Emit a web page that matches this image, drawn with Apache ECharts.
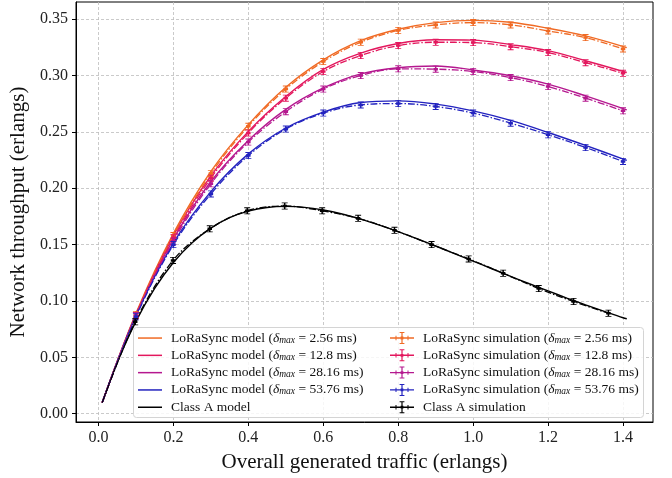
<!DOCTYPE html>
<html>
<head>
<meta charset="utf-8">
<script src="https://cdn.jsdelivr.net/npm/echarts@6/dist/echarts.min.js"></script>
<style>
  html, body { margin: 0; padding: 0; background: #fff; }
  #chart { width: 672px; height: 478px; }
</style>
</head>
<body>
<div id="chart"></div>
<script>
// x positions of the LoRaSync model curves and simulation points
const xModel = [0.01, 0.1, 0.2, 0.3, 0.4, 0.5, 0.6, 0.7, 0.8, 0.9, 1.0, 1.1, 1.2, 1.3, 1.41];
const xSim = [0.01, 0.1, 0.2, 0.3, 0.4, 0.5, 0.6, 0.7, 0.8, 0.9, 1.0, 1.1, 1.2, 1.3, 1.4];

// LoRaSync model throughput (erlangs)
const model256 = [0.0099, 0.089, 0.160, 0.215, 0.2565, 0.2897, 0.314, 0.331, 0.3411, 0.347, 0.349, 0.3473, 0.342, 0.3352, 0.3248];
const model128 = [0.0099, 0.088, 0.158, 0.211, 0.2505, 0.2815, 0.3055, 0.320, 0.3285, 0.3318, 0.3315, 0.3275, 0.3222, 0.3132, 0.3027];
const model2816 = [0.0099, 0.088, 0.155, 0.206, 0.2425, 0.270, 0.289, 0.3015, 0.307, 0.3085, 0.305, 0.2998, 0.2924, 0.282, 0.2696];
const model5376 = [0.0099, 0.087, 0.1515, 0.197, 0.2305, 0.2535, 0.2676, 0.2761, 0.2776, 0.2747, 0.2687, 0.2602, 0.2495, 0.238, 0.2247];

// LoRaSync simulation throughput (erlangs)
const sim256 = [0.0099, 0.088, 0.158, 0.213, 0.255, 0.288, 0.3124, 0.3296, 0.340, 0.345, 0.347, 0.345, 0.3396, 0.3337, 0.3237];
const sim128 = [0.0099, 0.087, 0.156, 0.209, 0.249, 0.280, 0.3036, 0.3178, 0.3266, 0.3296, 0.3293, 0.3257, 0.3204, 0.3115, 0.302];
const sim2816 = [0.0099, 0.087, 0.153, 0.204, 0.241, 0.268, 0.288, 0.300, 0.306, 0.3057, 0.3036, 0.2982, 0.2903, 0.280, 0.2687];
const sim5376 = [0.0099, 0.086, 0.150, 0.195, 0.229, 0.2525, 0.2667, 0.274, 0.2752, 0.2726, 0.2667, 0.2578, 0.2475, 0.2362, 0.2238];

// Class A model
const xClassA = [0.01, 0.05, 0.1, 0.15, 0.2, 0.25, 0.3, 0.35, 0.4, 0.45, 0.5, 0.55, 0.6, 0.65, 0.7,
  0.75, 0.8, 0.85, 0.9, 0.95, 1.0, 1.05, 1.1, 1.15, 1.2, 1.25, 1.3, 1.35, 1.4, 1.41];
const classAModel = [0.0098, 0.0452, 0.0819, 0.1111, 0.1341, 0.1516, 0.1646, 0.1739, 0.1797, 0.1829, 0.1839,
  0.1831, 0.1807, 0.1772, 0.1726, 0.1673, 0.1615, 0.1552, 0.1488, 0.1421, 0.1353, 0.1286, 0.1219,
  0.1153, 0.1089, 0.1026, 0.0966, 0.0908, 0.0851, 0.0842];

// Class A simulation (measured generated traffic on x)
const xClassASim = [0.01, 0.098, 0.199, 0.297, 0.397, 0.497, 0.597, 0.693, 0.790, 0.889, 0.988, 1.080, 1.175, 1.268, 1.361];
const classASim = [0.0098, 0.0815, 0.136, 0.164, 0.180, 0.1843, 0.180, 0.1733, 0.1627, 0.150, 0.1373, 0.1246, 0.111, 0.0995, 0.0891];

const xTicks = [0, 0.2, 0.4, 0.6, 0.8, 1.0, 1.2, 1.4];
const yTicks = [0, 0.05, 0.1, 0.15, 0.2, 0.25, 0.3, 0.35];

const delays = ['2.56', '12.8', '28.16', '53.76'];
const colors = ['#f06a24', '#e3175d', '#b5188f', '#2323bf', '#000000'];

const modelNames = delays.map(d => 'LoRaSync model (δmax = ' + d + ' ms)').concat(['Class A model']);
const simNames = delays.map(d => 'LoRaSync simulation (δmax = ' + d + ' ms)').concat(['Class A simulation']);

const font = 'Liberation Serif';

// error bar marker (vertical bar with caps + small square)
const markerPath = 'path://M4.4 0h1.2v10h-1.2z M2.6 0h4.8v1.2h-4.8z M2.6 8.8h4.8v1.2h-4.8z M3.2 3.2h3.6v3.6h-3.6z';
// legend handles: plain line for models, cross with caps for simulations
const modelIcon = 'path://M0 0M24 12M0 5.3h24v1.5h-24z';
const simIcon = 'path://M0 5.3h24v1.4h-24z M5.5 3.8h1v4.4h-1z M17.5 3.8h1v4.4h-1z M11.4 0h1.2v12h-1.2z M9.6 0h4.8v1h-4.8z M9.6 11h4.8v1h-4.8z M10.6 4.6h2.8v2.8h-2.8z';

const pairs = (xs, ys) => xs.map((x, i) => [x, ys[i]]);

const modelData = [
  pairs(xModel, model256), pairs(xModel, model128), pairs(xModel, model2816),
  pairs(xModel, model5376), pairs(xClassA, classAModel)
];
// the very first simulation point has no visible marker
const simPoints = (xs, ys) => xs.map((x, i) =>
  i === 0 ? { value: [x, ys[i]], symbol: 'none' } : [x, ys[i]]);
const simData = [
  simPoints(xSim, sim256), simPoints(xSim, sim128), simPoints(xSim, sim2816),
  simPoints(xSim, sim5376), simPoints(xClassASim, classASim)
];

const series = [];
modelData.forEach((d, i) => {
  series.push({
    name: modelNames[i],
    type: 'line',
    data: d,
    smooth: 0.35,
    symbol: 'none',
    lineStyle: { color: colors[i], width: 1.4 },
    itemStyle: { color: colors[i] },
    z: 2
  });
});
simData.forEach((d, i) => {
  series.push({
    name: simNames[i],
    type: 'line',
    data: d,
    smooth: 0.35,
    symbol: markerPath,
    symbolSize: [6, 7],
    showAllSymbol: true,
    lineStyle: { color: colors[i], width: 1.3, type: [7, 2, 1.5, 2] },
    itemStyle: { color: colors[i] },
    z: 3
  });
});

const legendSize = 13.5;
const richText = {
  r: { fontFamily: font, fontSize: legendSize, color: '#111', lineHeight: 14 },
  d: { fontFamily: font, fontSize: legendSize, fontStyle: 'italic', color: '#111', lineHeight: 14 },
  s: { fontFamily: font, fontSize: 9.5, fontStyle: 'italic', color: '#111', lineHeight: 14, verticalAlign: 'bottom' }
};
const legendFormatter = name => {
  if (name.indexOf('δmax') < 0) return '{r|' + name + '}';
  const parts = name.split('δmax');
  return '{r|' + parts[0] + '}{d|δ}{s|max}{r|' + parts[1] + '}';
};

const legendBase = {
  orient: 'vertical',
  itemWidth: 24,
  itemHeight: 12,
  itemGap: 3.3,
  padding: 0,
  symbolKeepAspect: false,
  formatter: legendFormatter,
  textStyle: { fontFamily: font, fontSize: legendSize, color: '#111', rich: richText, padding: [0, 0, 0, 4] }
};

const chart = echarts.init(document.getElementById('chart'), null, { renderer: 'canvas' });

chart.setOption({
  animation: false,
  backgroundColor: '#fff',
  grid: {
    left: 76, right: 19, top: 2, bottom: 55,
    show: true, borderColor: '#000', borderWidth: 1
  },
  xAxis: {
    type: 'value',
    min: -0.06,
    max: 1.48,
    name: 'Overall generated traffic (erlangs)',
    nameLocation: 'middle',
    nameGap: 30,
    nameTextStyle: { fontFamily: font, fontSize: 21, color: '#111' },
    axisLine: { show: true, onZero: false, lineStyle: { color: '#000', width: 1 } },
    axisTick: { show: true, length: 4, lineStyle: { color: '#000' }, customValues: xTicks },
    axisLabel: {
      customValues: xTicks, margin: 8,
      fontFamily: font, fontSize: 16, color: '#222',
      formatter: v => v.toFixed(1)
    },
    splitLine: { show: true, lineStyle: { color: '#bdbdbd', width: 0.8, type: [3, 2] } }
  },
  yAxis: {
    type: 'value',
    min: -0.0074,
    max: 0.3653,
    name: 'Network throughput (erlangs)',
    nameLocation: 'middle',
    nameGap: 41,
    nameTextStyle: { fontFamily: font, fontSize: 21, color: '#111' },
    axisLine: { show: true, onZero: false, lineStyle: { color: '#000', width: 1 } },
    axisTick: { show: true, length: 4, lineStyle: { color: '#000' }, customValues: yTicks },
    axisLabel: {
      customValues: yTicks, margin: 8,
      fontFamily: font, fontSize: 16, color: '#222',
      formatter: v => v.toFixed(2)
    },
    splitLine: { show: true, lineStyle: { color: '#bdbdbd', width: 0.8, type: [3, 2] } }
  },
  legend: [
    Object.assign({}, legendBase, {
      left: 138, top: 331,
      data: modelNames.map(n => ({ name: n, icon: modelIcon }))
    }),
    Object.assign({}, legendBase, {
      left: 390, top: 331,
      data: simNames.map(n => ({ name: n, icon: simIcon }))
    })
  ],
  graphic: [{
    type: 'rect',
    z: 3,
    shape: { x: 133.5, y: 327.5, width: 510, height: 90, r: 3 },
    style: { fill: 'rgba(255,255,255,0.82)', stroke: '#d4d4d4', lineWidth: 1 }
  }],
  series: series
});
</script>
</body>
</html>
